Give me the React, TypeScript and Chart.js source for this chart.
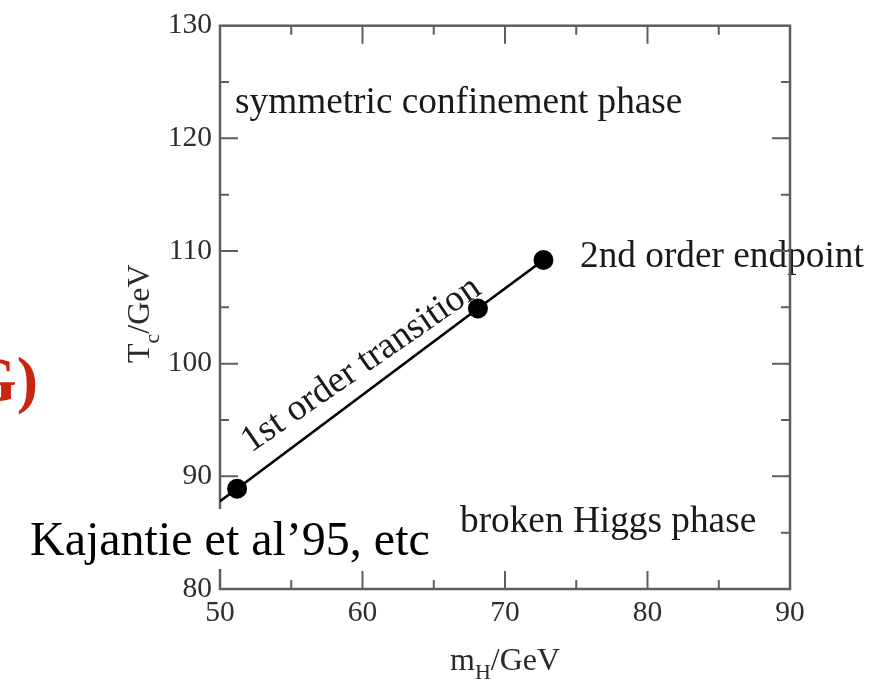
import { useEffect, useRef } from "react";
import { Chart, registerables } from "chart.js";

Chart.register(...registerables);

// Critical temperature of the electroweak transition vs. Higgs mass
const massGeV = [50, 51.2, 68.1, 72.7];
const tcGeV = [87.8, 88.9, 104.9, 109.2];
const markerRadius = [0, 10, 10, 10];

const xRange = [50, 90];
const yRange = [80, 130];
const majorStep = 10;
const minorStep = 5;

const phaseLabels = {
  symmetric: "symmetric confinement phase",
  broken: "broken Higgs phase",
  endpoint: "2nd order endpoint",
  firstOrder: "1st order transition",
};
const citation = "Kajantie et al\u201995, etc";
const headingTail = "G)";

const SERIF = "'Liberation Serif', 'Times New Roman', serif";
const FRAME = "#5e5e5e";

const framePlugin = {
  id: "phaseFrame",
  beforeDatasetsDraw(chart: any) {
    const { ctx, chartArea: a, scales } = chart;
    const xs = scales.x;
    const ys = scales.y;
    ctx.save();

    // region labels
    ctx.fillStyle = "#1a1a1a";
    ctx.font = `37.3px ${SERIF}`;
    ctx.textBaseline = "alphabetic";
    ctx.textAlign = "left";
    ctx.fillText(phaseLabels.symmetric, 235, 113);
    ctx.fillText(phaseLabels.endpoint, 580, 267);
    ctx.fillText(phaseLabels.broken, 460, 532);

    ctx.save();
    ctx.translate(251, 453);
    ctx.rotate(-Math.atan2(157, 227));
    ctx.fillText(phaseLabels.firstOrder, 0, 0);
    ctx.restore();

    // frame
    ctx.strokeStyle = FRAME;
    ctx.lineWidth = 2.5;
    ctx.strokeRect(a.left, a.top, a.right - a.left, a.bottom - a.top);

    // inward ticks on all four sides
    ctx.lineWidth = 2;
    ctx.beginPath();
    for (let v = xRange[0] + minorStep; v < xRange[1]; v += minorStep) {
      const len = v % majorStep === 0 ? 18 : 9;
      const px = xs.getPixelForValue(v);
      ctx.moveTo(px, a.bottom);
      ctx.lineTo(px, a.bottom - len);
      ctx.moveTo(px, a.top);
      ctx.lineTo(px, a.top + len);
    }
    for (let v = yRange[0] + minorStep; v < yRange[1]; v += minorStep) {
      const len = v % majorStep === 0 ? 18 : 9;
      const py = ys.getPixelForValue(v);
      ctx.moveTo(a.left, py);
      ctx.lineTo(a.left + len, py);
      ctx.moveTo(a.right, py);
      ctx.lineTo(a.right - len, py);
    }
    ctx.stroke();
    ctx.restore();
  },
  afterDraw(chart: any) {
    const { ctx } = chart;
    ctx.save();

    // citation on a white patch over the left axis
    ctx.font = `48px ${SERIF}`;
    const w = ctx.measureText(citation).width;
    ctx.fillStyle = "#ffffff";
    ctx.fillRect(28, 509, w + 6, 60);
    ctx.fillStyle = "#000000";
    ctx.textAlign = "left";
    ctx.textBaseline = "alphabetic";
    ctx.fillText(citation, 30, 555);

    // tail of the slide heading
    ctx.font = `bold 64px ${SERIF}`;
    ctx.fillStyle = "#c8260f";
    ctx.textAlign = "right";
    ctx.fillText(headingTail, 38, 401);

    // axis titles
    ctx.fillStyle = "#2a2a2a";
    ctx.textAlign = "left";
    const big = `32px ${SERIF}`;
    const sub = `22px ${SERIF}`;

    let x = 450;
    const base = 670;
    ctx.font = big;
    ctx.fillText("m", x, base);
    x += ctx.measureText("m").width;
    ctx.font = sub;
    ctx.fillText("H", x, base + 9);
    x += ctx.measureText("H").width;
    ctx.font = big;
    ctx.fillText("/GeV", x, base);

    ctx.save();
    ctx.translate(149, 363);
    ctx.rotate(-Math.PI / 2);
    let t = 0;
    ctx.font = big;
    ctx.fillText("T", t, 0);
    t += ctx.measureText("T").width;
    ctx.font = sub;
    ctx.fillText("c", t, 10);
    t += ctx.measureText("c").width;
    ctx.font = big;
    ctx.fillText("/GeV", t, 0);
    ctx.restore();

    ctx.restore();
  },
};

export default function App() {
  const canvasRef = useRef<HTMLCanvasElement | null>(null);

  useEffect(() => {
    const canvas = canvasRef.current;
    if (!canvas) return;
    const points = massGeV.map((m, i) => ({ x: m, y: tcGeV[i] }));
    const tickFont = { family: SERIF, size: 29.5 };

    const chart = new Chart(canvas, {
      type: "scatter",
      data: {
        datasets: [
          {
            data: points,
            showLine: true,
            borderColor: "#000000",
            borderWidth: 2.7,
            backgroundColor: "#000000",
            pointBackgroundColor: "#000000",
            pointBorderWidth: 0,
            pointRadius: markerRadius,
            pointHoverRadius: markerRadius,
          },
        ],
      },
      options: {
        animation: false,
        responsive: true,
        maintainAspectRatio: false,
        layout: { padding: { top: 25, right: 86, left: 0, bottom: 0 } },
        plugins: {
          legend: { display: false },
          tooltip: { enabled: false },
        },
        scales: {
          x: {
            type: "linear",
            min: xRange[0],
            max: xRange[1],
            grid: { display: false, drawTicks: false },
            border: { display: false },
            ticks: { stepSize: majorStep, color: "#2e2e2e", font: tickFont, padding: 7, maxRotation: 0 },
            afterFit: (s: any) => {
              s.height = 92;
            },
          },
          y: {
            type: "linear",
            min: yRange[0],
            max: yRange[1],
            grid: { display: false, drawTicks: false },
            border: { display: false },
            ticks: { stepSize: majorStep, color: "#2e2e2e", font: tickFont, padding: 8 },
            afterFit: (s: any) => {
              s.width = 220;
            },
          },
        },
      },
      plugins: [framePlugin],
    });
    return () => chart.destroy();
  }, []);

  return (
    <div style={{ position: "absolute", left: 0, top: 0, width: 876, height: 681, background: "#ffffff" }}>
      <canvas ref={canvasRef} />
    </div>
  );
}
